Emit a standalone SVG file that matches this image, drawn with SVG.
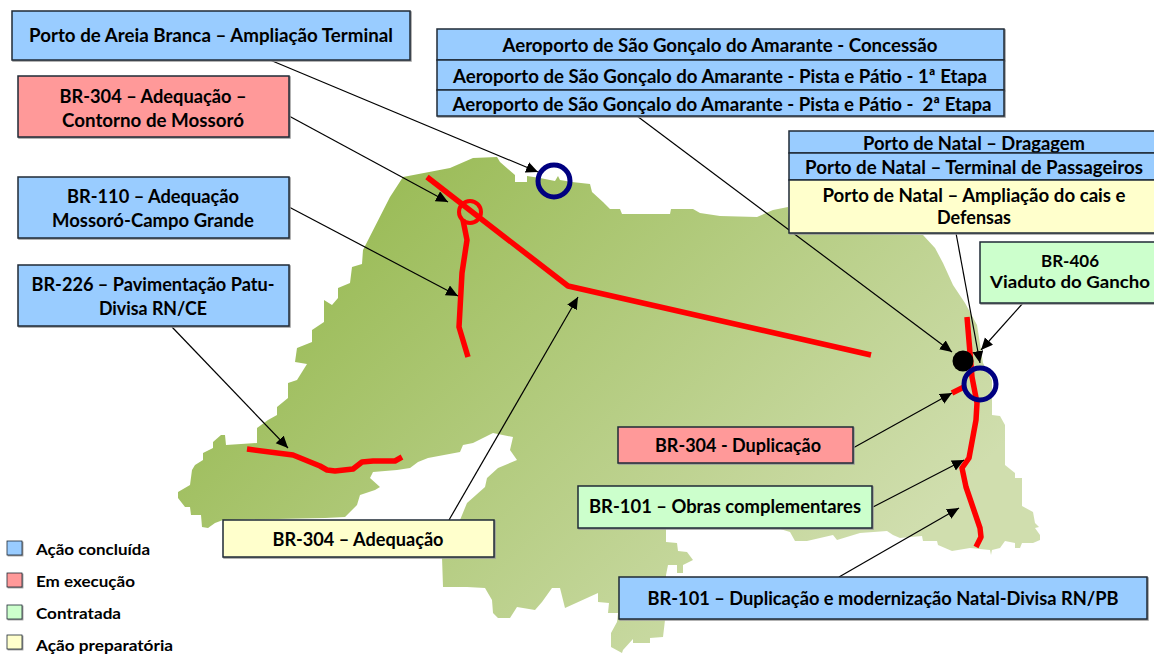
<svg xmlns="http://www.w3.org/2000/svg" width="1154" height="654" viewBox="0 0 1154 654">
<style>
text{font-family:"Lato","Liberation Sans",sans-serif;font-weight:700;fill:#000;text-anchor:middle;font-size:18.5px;transform:translateY(.7px)}
.b{stroke:#1f2a36;stroke-width:1.5;filter:drop-shadow(1px 1px 0 #999)}
.blue{fill:#99ccff}.red{fill:#ff9999}.green{fill:#ccffcc}.yellow{fill:#ffffcc}
text.leg{text-anchor:start;font-size:16px}
text.s{font-size:17px}
.c{fill:none;stroke:#000;stroke-width:1.2;marker-end:url(#a)}
.r{fill:none;stroke:#ff0000;stroke-width:5.5;stroke-linejoin:round}
.n{fill:none;stroke:#000080;stroke-width:5}
</style>
<defs>
<linearGradient id="g" gradientUnits="userSpaceOnUse" x1="350" y1="170" x2="800" y2="640"><stop offset="0" stop-color="#98ba53"/><stop offset="1" stop-color="#d0deae"/></linearGradient>
<marker id="a" markerUnits="userSpaceOnUse" markerWidth="14" markerHeight="12" refX="12" refY="5.5" orient="auto"><path d="M0 0L12 5.5L0 11Z" fill="#000"/></marker>
</defs>
<g id="map"><path fill="url(#g)" d="M497 157L473 158L450 168L403 177L390 197L363 250L362 264L352 267L350 283L338 288L338 298L332 305L324 300L324 322L312 330L312 342L297 348L295 362L307 364L297 380L288 383L288 398L277 407L277 415L268 420L257 428L257 443L226 445L225 435L221 435L213 442L213 448L203 453L203 460L195 465L192 470L190 485L178 492L178 498L185 507L190 507L191 515L201 515L202 527L208 528L215 523L223 520L325 518L345 517L357 505L360 495L375 490L380 487L370 478L373 472L397 470L410 468L418 462L428 458L460 452L463 445L473 443L493 433L513 437L510 450L517 460L498 468L487 478L485 487L467 503L460 520L442 557L443 587L467 587L485 588L492 600L493 613L498 618L510 618L517 607L535 610L542 602L552 588L560 588L565 608L598 593L598 602L609 603L608 613L618 613L617 622L611 633L611 647L622 653L623 650L633 639L633 643L650 643L650 638L663 637L665 620L666 577L666 575L668 565L677 565L677 573L683 573L683 565L693 560L687 552L678 551L677 543L666 542L666 528L777 528L790 532L795 541L807 541L833 535L837 540L860 533L887 531L893 535L900 538L922 536L923 541L937 541L938 545L952 551L970 548L990 550L991 555L992 550L1000 548L1005 541L1015 543L1015 548L1020 548L1022 543L1033 543L1040 540L1040 535L1035 528L1039 527L1035 523L1033 512L1022 506L1022 478L1015 478L1015 473L1005 465L1005 425L1000 416L992 415L992 400L992 380L983 363L977 325L965 303L953 285L943 263L935 248L923 235L790 233L788 207L773 210L757 217L720 216L700 213L693 209L671 209L670 214L622 214L620 209L610 209L603 202L592 192L590 184L572 182L560 180L558 176L555 181L540 178L527 176L527 182L515 182L515 175L500 162Z"/></g>
<g id="routes">
<path class="r" d="M427 177L568 286L871 355"/>
<path class="r" d="M463 220L467 240L462 273L459 327L468 357"/>
<path class="r" d="M247 449L293 455L320 466L327 470L335 471L353 469L362 462L373 461L395 461L402 457"/>
<path class="r" d="M967 317L970 353L972 377L977 403L976 420L969 458L962 468L966 487L980 528L981 537L976 547"/>
<path class="r" d="M952 393L966 386"/>
</g>
<g id="markers">
<circle cx="470" cy="212" r="11" fill="none" stroke="#ff0000" stroke-width="4"/>
<circle class="n" cx="554" cy="181" r="16"/>
<circle cx="963" cy="361" r="10.5" fill="#000"/>
<circle class="n" cx="980" cy="384" r="16"/>
</g>
<g id="connectors">
<path class="c" d="M270 60L538 172"/>
<path class="c" d="M289 116L448 202"/>
<path class="c" d="M289 207L458 296"/>
<path class="c" d="M172 327L288 448"/>
<path class="c" d="M449 520L578 297"/>
<path class="c" d="M637 116L952 352"/>
<path class="c" d="M956 233L980 363"/>
<path class="c" d="M1023 303L981 350"/>
<path class="c" d="M853 448L952 393"/>
<path class="c" d="M873 507L964 460"/>
<path class="c" d="M839 577L959 508"/>
</g>
<g id="n-areia"><rect class="b blue" x="12" y="11" width="398" height="49"/><text x="211" y="41" textLength="364" lengthAdjust="spacingAndGlyphs">Porto de Areia Branca – Ampliação Terminal</text></g>
<g id="n-contorno"><rect class="b red" x="18" y="76" width="271" height="61"/><text x="153" y="102" textLength="187" lengthAdjust="spacingAndGlyphs">BR-304 – Adequação –</text><text x="153" y="126" textLength="182" lengthAdjust="spacingAndGlyphs">Contorno de Mossoró</text></g>
<g id="n-br110"><rect class="b blue" x="18" y="177" width="271" height="61"/><text x="153" y="202" textLength="172" lengthAdjust="spacingAndGlyphs">BR-110 – Adequação</text><text x="153" y="226" textLength="202" lengthAdjust="spacingAndGlyphs">Mossoró-Campo Grande</text></g>
<g id="n-br226"><rect class="b blue" x="18" y="265" width="271" height="61"/><text x="153" y="290" textLength="243" lengthAdjust="spacingAndGlyphs">BR-226 – Pavimentação Patu-</text><text x="153" y="314" textLength="108" lengthAdjust="spacingAndGlyphs">Divisa RN/CE</text></g>
<g id="n-aero1"><rect class="b blue" x="437" y="29" width="567" height="31"/><text x="720" y="51" textLength="435" lengthAdjust="spacingAndGlyphs">Aeroporto de São Gonçalo do Amarante - Concessão</text></g>
<g id="n-aero2"><rect class="b blue" x="437" y="60" width="567" height="30"/><text x="720" y="82" textLength="534" lengthAdjust="spacingAndGlyphs">Aeroporto de São Gonçalo do Amarante - Pista e Pátio - 1ª Etapa</text></g>
<g id="n-aero3"><rect class="b blue" x="437" y="90" width="567" height="26"/><text x="722" y="110" textLength="539" lengthAdjust="spacingAndGlyphs" xml:space="preserve">Aeroporto de São Gonçalo do Amarante - Pista e Pátio -  2ª Etapa</text></g>
<g id="n-natal1"><rect class="b blue" x="789" y="131" width="370" height="22"/><text x="974" y="149" textLength="222" lengthAdjust="spacingAndGlyphs">Porto de Natal – Dragagem</text></g>
<g id="n-natal2"><rect class="b blue" x="789" y="153" width="370" height="27"/><text x="974" y="173" textLength="338" lengthAdjust="spacingAndGlyphs">Porto de Natal – Terminal de Passageiros</text></g>
<g id="n-natal3"><rect class="b yellow" x="789" y="180" width="370" height="53"/><text x="974" y="201" textLength="303" lengthAdjust="spacingAndGlyphs">Porto de Natal – Ampliação do cais e</text><text x="974" y="223" textLength="74" lengthAdjust="spacingAndGlyphs">Defensas</text></g>
<g id="n-br406"><rect class="b green" x="980" y="242" width="180" height="61"/><text class="s" x="1070" y="266.5" textLength="58" lengthAdjust="spacingAndGlyphs">BR-406</text><text class="s" x="1070" y="287.5" textLength="160" lengthAdjust="spacingAndGlyphs">Viaduto do Gancho</text></g>
<g id="n-dup304"><rect class="b red" x="618" y="427" width="235" height="36"/><text x="738" y="451" textLength="166" lengthAdjust="spacingAndGlyphs">BR-304 - Duplicação</text></g>
<g id="n-obras"><rect class="b green" x="578" y="486" width="294" height="42"/><text x="725" y="512" textLength="272" lengthAdjust="spacingAndGlyphs">BR-101 – Obras complementares</text></g>
<g id="n-dup101"><rect class="b blue" x="619" y="577" width="528" height="42"/><text x="883" y="604" textLength="471" lengthAdjust="spacingAndGlyphs">BR-101 – Duplicação e modernização Natal-Divisa RN/PB</text></g>
<g id="n-adeq"><rect class="b yellow" x="223" y="520" width="271" height="37"/><text x="358" y="545" textLength="171" lengthAdjust="spacingAndGlyphs">BR-304 – Adequação</text></g>
<g id="legend">
<rect class="b blue" x="7" y="541" width="15" height="14" style="stroke-width:.8"/><text class="leg" x="36" y="554" textLength="114" lengthAdjust="spacingAndGlyphs">Ação concluída</text>
<rect class="b red" x="7" y="573" width="15" height="14" style="stroke-width:.8"/><text class="leg" x="36" y="586" textLength="99" lengthAdjust="spacingAndGlyphs">Em execução</text>
<rect class="b green" x="7" y="605" width="15" height="14" style="stroke-width:.8"/><text class="leg" x="36" y="618" textLength="85" lengthAdjust="spacingAndGlyphs">Contratada</text>
<rect class="b yellow" x="7" y="635" width="15" height="14" style="stroke-width:.8"/><text class="leg" x="36" y="650" textLength="137" lengthAdjust="spacingAndGlyphs">Ação preparatória</text>
</g>
</svg>
